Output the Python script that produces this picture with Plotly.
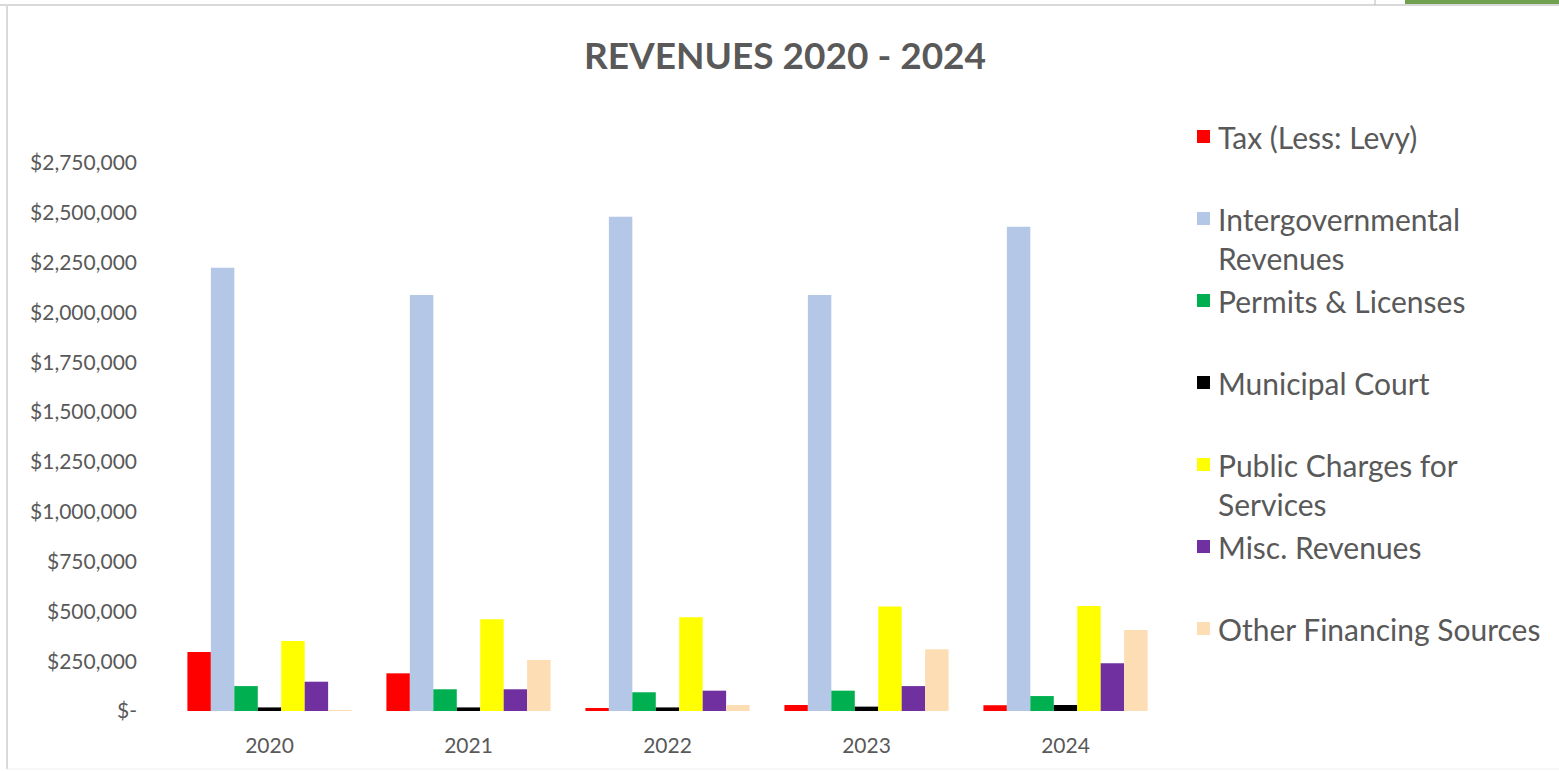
import plotly.graph_objects as go

# Revenue figures by fiscal year
years = ["2020", "2021", "2022", "2023", "2024"]
tax_less_levy = [296000, 189000, 15000, 30000, 29000]
intergovernmental = [2224000, 2088000, 2480000, 2088000, 2430000]
permits_licenses = [125000, 109000, 94000, 102000, 75000]
municipal_court = [18000, 18000, 18000, 22000, 30000]
public_charges = [351000, 460000, 470000, 524000, 527000]
misc_revenues = [147000, 109000, 102000, 125000, 239000]
other_financing = [3000, 256000, 30000, 310000, 407000]

series_names = [
    "Tax (Less: Levy)",
    "Intergovernmental Revenues",
    "Permits & Licenses",
    "Municipal Court",
    "Public Charges for Services",
    "Misc. Revenues",
    "Other Financing Sources",
]
legend_lines = [
    ["Tax (Less: Levy)"],
    ["Intergovernmental", "Revenues"],
    ["Permits & Licenses"],
    ["Municipal Court"],
    ["Public Charges for", "Services"],
    ["Misc. Revenues"],
    ["Other Financing Sources"],
]
series_values = [tax_less_levy, intergovernmental, permits_licenses, municipal_court,
                 public_charges, misc_revenues, other_financing]
series_colors = ["#FF0000", "#B4C7E7", "#00B050", "#000000", "#FFFF00", "#7030A0", "#FCDDB4"]

y_tick_vals = [0, 250000, 500000, 750000, 1000000, 1250000, 1500000, 1750000,
               2000000, 2250000, 2500000, 2750000]
y_tick_text = ["$-", "$250,000", "$500,000", "$750,000", "$1,000,000", "$1,250,000",
               "$1,500,000", "$1,750,000", "$2,000,000", "$2,250,000", "$2,500,000",
               "$2,750,000"]

W, H = 1559, 771
L, R, T, B = 170, 1165, 163, 711
FONT = "Lato"
GREY = "#595959"

fig = go.Figure()
for name, vals, col in zip(series_names, series_values, series_colors):
    fig.add_trace(go.Bar(x=years, y=vals, name=name, marker_color=col,
                         marker_line_width=0, showlegend=False))


def px_x(p):
    return (p - L) / (R - L)


def px_y(p):
    return (B - p) / (B - T)


annotations = [dict(text="<b>REVENUES 2020 - 2024</b>", x=px_x(785), y=px_y(55),
                    xref="paper", yref="paper", showarrow=False,
                    font=dict(family=FONT, size=37, color=GREY),
                    xanchor="center", yanchor="middle")]
shapes = []

# Legend drawn at the right of the plot
legend_top = 137
legend_step = 82
line_step = 39
for i, (lines, col) in enumerate(zip(legend_lines, series_colors)):
    yc = legend_top + i * legend_step
    shapes.append(dict(type="rect", xref="paper", yref="paper",
                       x0=px_x(1197), x1=px_x(1210), y0=px_y(yc - 7), y1=px_y(yc + 6),
                       fillcolor=col, line_width=0))
    for j, txt in enumerate(lines):
        annotations.append(dict(text=txt, x=px_x(1216), y=px_y(yc + j * line_step),
                                xref="paper", yref="paper", showarrow=False,
                                font=dict(family=FONT, size=30, color=GREY),
                                xanchor="left", yanchor="middle"))

# Frame of the chart area
shapes += [
    dict(type="line", xref="paper", yref="paper", x0=px_x(7), x1=px_x(7),
         y0=px_y(6), y1=px_y(769), line=dict(color="#D9D9D9", width=2)),
    dict(type="line", xref="paper", yref="paper", x0=px_x(0), x1=px_x(W),
         y0=px_y(5), y1=px_y(5), line=dict(color="#D9D9D9", width=2)),
    dict(type="line", xref="paper", yref="paper", x0=px_x(7), x1=px_x(W),
         y0=px_y(769), y1=px_y(769), line=dict(color="#EEEEEE", width=1)),
    dict(type="rect", xref="paper", yref="paper", x0=px_x(1405), x1=px_x(W),
         y0=px_y(4), y1=px_y(0), fillcolor="#70A050", line_width=0),
    dict(type="line", xref="paper", yref="paper", x0=px_x(1375), x1=px_x(1375),
         y0=px_y(0), y1=px_y(5), line=dict(color="#BBBBBB", width=1)),
]

fig.update_layout(
    width=W, height=H,
    margin=dict(l=L, r=W - R, t=T, b=H - B, pad=0),
    paper_bgcolor="white", plot_bgcolor="white",
    barmode="group", bargap=0.175, bargroupgap=0,
    annotations=annotations, shapes=shapes,
    font=dict(family=FONT, color=GREY),
)
fig.update_xaxes(showgrid=False, showline=False, zeroline=False, ticks="",
                 tickfont=dict(family=FONT, size=21, color=GREY), ticklabelstandoff=20)
fig.update_yaxes(range=[0, 2750000], tickvals=y_tick_vals, ticktext=y_tick_text,
                 showgrid=False, showline=False, zeroline=False, ticks="",
                 tickfont=dict(family=FONT, size=21, color=GREY), ticklabelstandoff=32)

fig.write_html("out.html")
